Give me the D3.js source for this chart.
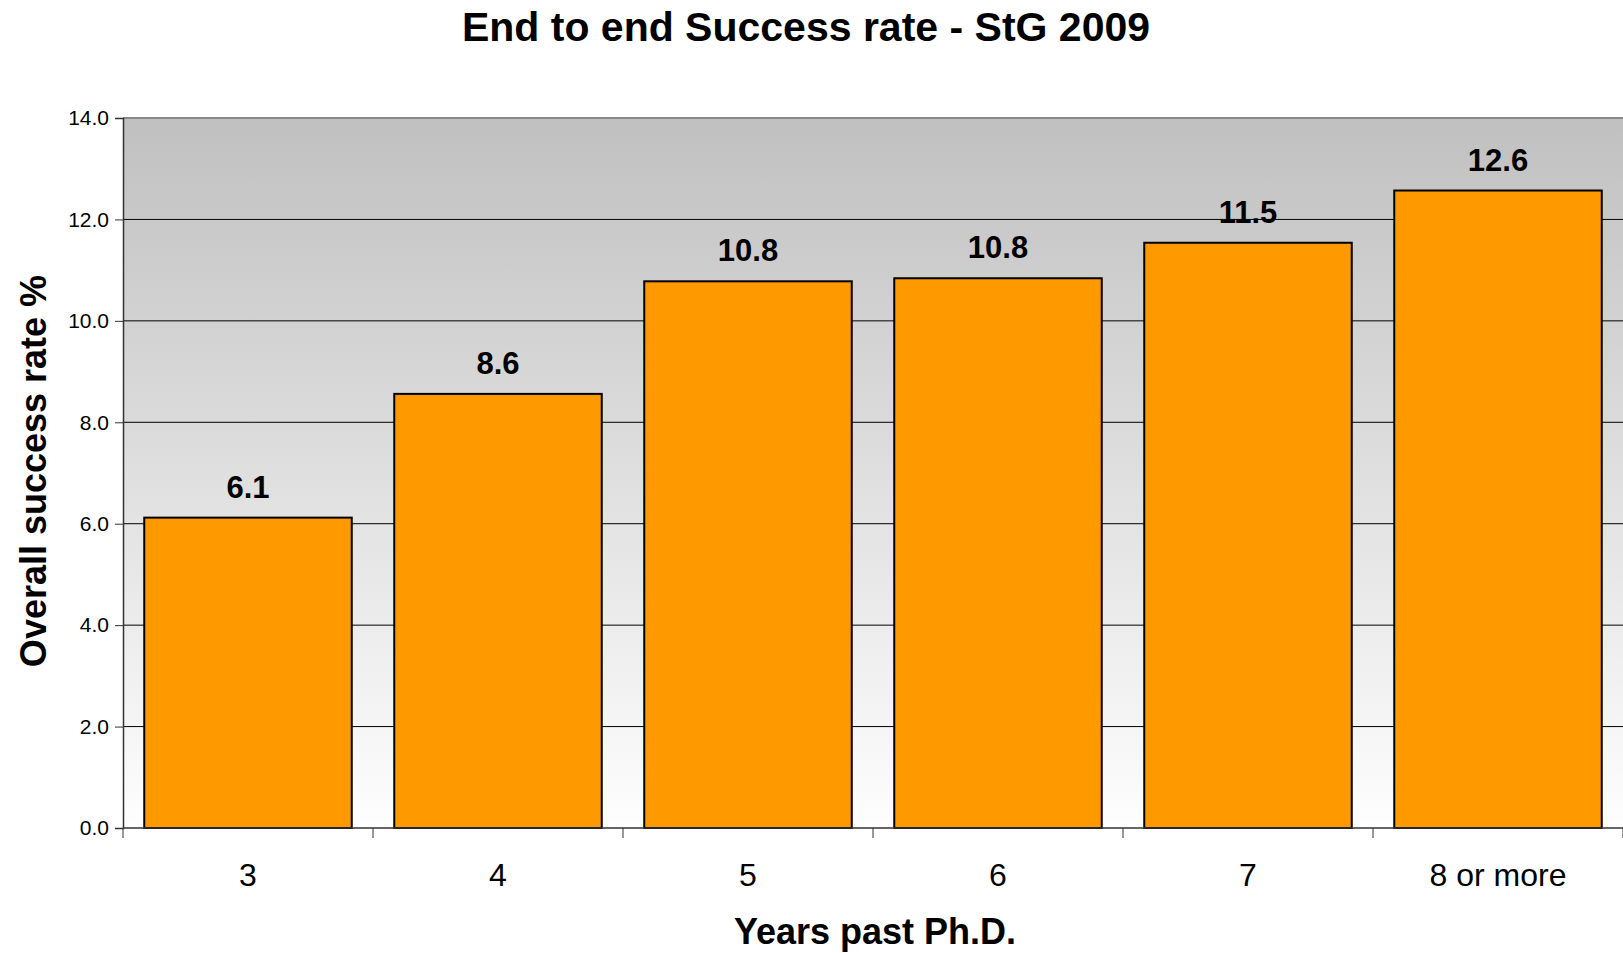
<!DOCTYPE html>
<html>
<head>
<meta charset="utf-8">
<title>End to end Success rate</title>
<style>
  body { margin: 0; background: #fff; }
  svg text { font-family: "Liberation Sans", Arial, sans-serif; fill: #000; }
</style>
</head>
<body>
<div id="chart"></div>
<script src="https://cdn.jsdelivr.net/npm/d3@7"></script>
<script>

var categories = ['3', '4', '5', '6', '7', '8 or more'];
var rates = [6.12, 8.56, 10.78, 10.84, 11.54, 12.57];
var yTicks = [0, 2, 4, 6, 8, 10, 12, 14];

var width = 1623, height = 953;
var m = {top: 118, right: 0, bottom: 125, left: 123};

var svg = d3.select('#chart').append('svg')
  .attr('width', width)
  .attr('height', height);

var x = d3.scaleBand()
  .domain(categories)
  .range([m.left, width - m.right])
  .paddingInner(0.17)
  .paddingOuter(0.085);

var y = d3.scaleLinear()
  .domain([0, 14])
  .range([height - m.bottom, m.top]);

// plot area gradient
var grad = svg.append('defs').append('linearGradient')
  .attr('id', 'bg').attr('x1', 0).attr('y1', 0).attr('x2', 0).attr('y2', 1);
grad.append('stop').attr('offset', '0%').attr('stop-color', '#c0c0c0');
grad.append('stop').attr('offset', '100%').attr('stop-color', '#fefefe');

svg.append('rect')
  .attr('x', m.left)
  .attr('y', y(14))
  .attr('width', width - m.right - m.left)
  .attr('height', y(0) - y(14))
  .attr('fill', 'url(#bg)');

// gridlines
svg.append('g').selectAll('line')
  .data(yTicks.filter(function(d){ return d > 0 && d < 14; }))
  .enter().append('line')
  .attr('x1', m.left).attr('x2', width - m.right)
  .attr('y1', function(d){ return y(d); })
  .attr('y2', function(d){ return y(d); })
  .attr('stroke', '#000').attr('stroke-width', 1);

// top border
svg.append('line')
  .attr('x1', m.left).attr('x2', width - m.right)
  .attr('y1', y(14)).attr('y2', y(14))
  .attr('stroke', '#888').attr('stroke-width', 2);

// bars
svg.append('g').selectAll('rect')
  .data(rates)
  .enter().append('rect')
  .attr('x', function(d, i){ return x(categories[i]); })
  .attr('y', function(d){ return y(d); })
  .attr('width', x.bandwidth())
  .attr('height', function(d){ return y(0) - y(d); })
  .attr('fill', '#ff9900')
  .attr('stroke', '#000')
  .attr('stroke-width', 2);

// value labels
svg.append('g').selectAll('text')
  .data(rates)
  .enter().append('text')
  .attr('x', function(d, i){ return x(categories[i]) + x.bandwidth()/2; })
  .attr('y', function(d){ return y(d) - 20; })
  .attr('text-anchor', 'middle')
  .style('font-size', '31px')
  .style('font-weight', 'bold')
  .text(function(d){ return d.toFixed(1); });

// y axis
var yAxis = d3.axisLeft(y)
  .tickValues(yTicks)
  .tickFormat(d3.format('.1f'))
  .tickSize(8)
  .tickPadding(6);

var ya = svg.append('g')
  .attr('transform', 'translate(' + m.left + ',0)')
  .call(yAxis);
ya.select('.domain').attr('stroke', '#333').attr('stroke-width', 1.5);
ya.selectAll('.tick line').attr('stroke', '#333');
ya.selectAll('.tick text').style('font-size', '21px').attr('fill', '#000');

// x axis: ticks on category boundaries
var bounds = d3.range(categories.length + 1).map(function(i){
  return m.left + i * x.step();
});
svg.append('line')
  .attr('x1', m.left).attr('x2', width - m.right)
  .attr('y1', y(0)).attr('y2', y(0))
  .attr('stroke', '#333').attr('stroke-width', 1.5);
svg.append('g').selectAll('line')
  .data(bounds)
  .enter().append('line')
  .attr('x1', function(d){ return d; })
  .attr('x2', function(d){ return d; })
  .attr('y1', y(0)).attr('y2', y(0) + 10)
  .attr('stroke', '#333').attr('stroke-width', 1);

svg.append('g').selectAll('text')
  .data(categories)
  .enter().append('text')
  .attr('x', function(d){ return x(d) + x.bandwidth()/2; })
  .attr('y', y(0) + 58)
  .attr('text-anchor', 'middle')
  .style('font-size', '32px')
  .text(function(d){ return d; });

// titles
svg.append('text')
  .attr('x', 806).attr('y', 41)
  .attr('text-anchor', 'middle')
  .style('font-size', '41px')
  .style('font-weight', 'bold')
  .text('End to end Success rate - StG 2009');

svg.append('text')
  .attr('x', 875).attr('y', 944)
  .attr('text-anchor', 'middle')
  .style('font-size', '36px')
  .style('font-weight', 'bold')
  .text('Years past Ph.D.');

svg.append('text')
  .attr('transform', 'translate(46,' + 471 + ') rotate(-90)')
  .attr('text-anchor', 'middle')
  .style('font-size', '36px')
  .style('font-weight', 'bold')
  .text('Overall success rate %');

</script>
</body>
</html>
